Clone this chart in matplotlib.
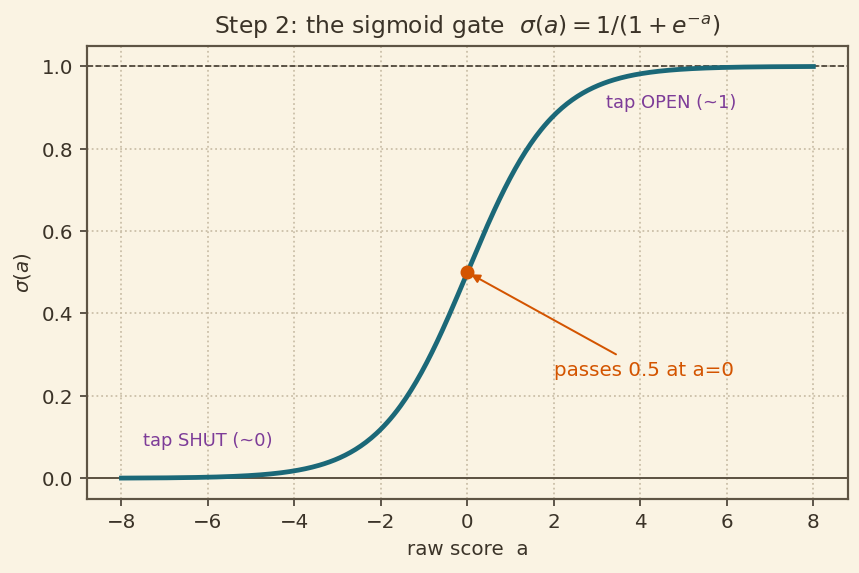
import numpy as np
import matplotlib
matplotlib.use("Agg")
import matplotlib.pyplot as plt

# data
a_min, a_max = -8, 8
a_values = np.linspace(a_min, a_max, 400)
sigma_values = 1.0 / (1.0 + np.exp(-a_values))
mid_point = (0.0, 0.5)
labels = {"shut": "tap SHUT (~0)", "open": "tap OPEN (~1)", "mid": "passes 0.5 at a=0"}

BG = "#faf3e3"
TEXT = "#3b3328"
SPINE = "#5e5444"
TEAL = "#1b6878"
ORANGE = "#d35400"
PURPLE = "#7d3c98"

plt.rcParams.update({
    "font.family": ["DejaVu Sans"],
    "text.color": TEXT,
    "axes.labelcolor": TEXT,
    "xtick.color": TEXT,
    "ytick.color": TEXT,
    "axes.edgecolor": SPINE,
})

fig, ax = plt.subplots(figsize=(6, 4), dpi=143.33)
fig.patch.set_facecolor(BG)
ax.set_facecolor(BG)

ax.grid(True, linestyle=":", color="#cbbfa8", linewidth=0.9)
ax.set_axisbelow(True)

ax.axhline(0, color=SPINE, linewidth=1.0, zorder=1)
ax.axhline(1, color="#3b3328", linewidth=0.8, linestyle="--", zorder=1)

ax.plot(a_values, sigma_values, color=TEAL, linewidth=2.4, zorder=3)
ax.plot([mid_point[0]], [mid_point[1]], "o", color=ORANGE, markersize=6, zorder=4)

ax.annotate(labels["mid"], xy=mid_point, xytext=(2.0, 0.25), color=ORANGE, fontsize=10,
            arrowprops=dict(arrowstyle="-|>", color=ORANGE, lw=1.0, mutation_scale=9))

ax.text(-7.5, 0.08, labels["shut"], color=PURPLE, fontsize=9)
ax.text(3.2, 0.9, labels["open"], color=PURPLE, fontsize=9)

ax.set_xticks(np.arange(-8, 9, 2))
ax.set_yticks(np.arange(0, 1.01, 0.2))
ax.set_xlabel("raw score  a", fontsize=10)
ax.set_ylabel(r"$\sigma(a)$", fontsize=10)
ax.set_title(r"Step 2: the sigmoid gate  $\sigma(a) = 1/(1+e^{-a})$", fontsize=11.8)
ax.tick_params(labelsize=10)
for s in ax.spines.values():
    s.set_linewidth(1.1)

fig.subplots_adjust(left=0.101, right=0.986, top=0.9196, bottom=0.1294)
fig.savefig("out.png", dpi=143.33, facecolor=BG)
